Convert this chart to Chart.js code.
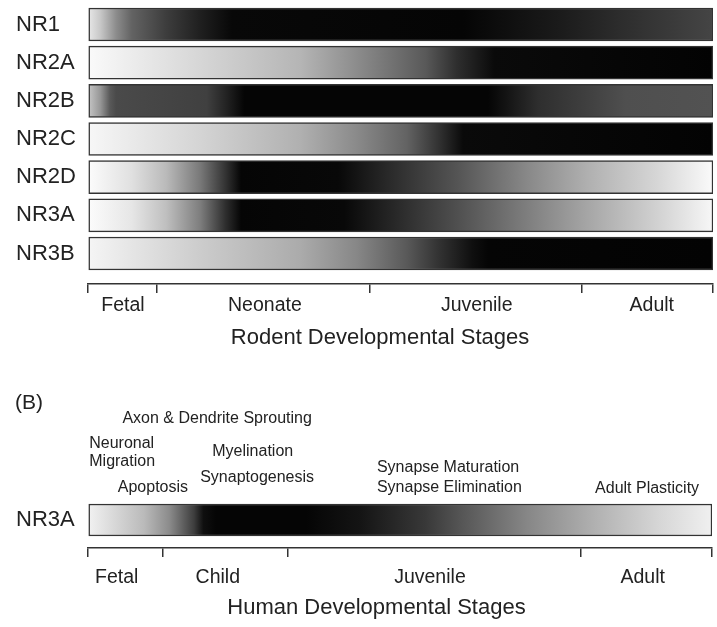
<!DOCTYPE html>
<html>
<head>
<meta charset="utf-8">
<title>NMDA receptor subunit expression across development</title>
<script src="https://cdn.jsdelivr.net/npm/chart.js@4.4.1/dist/chart.umd.min.js"></script>
<style>
  html, body { margin: 0; padding: 0; background: #fff; }
  #wrap { position: relative; width: 717px; height: 627px; }
  canvas { position: absolute; left: 0; }
  #rodent { top: 0; }
  #human { top: 370px; }
</style>
</head>
<body>
<div id="wrap">
  <canvas id="rodent" width="717" height="370"></canvas>
  <canvas id="human" width="717" height="257"></canvas>
</div>
<script>
// Timeline runs from 0 (start of fetal period) to 100 (adult).
// Expression runs from 0 (none, drawn white) to 100 (peak, drawn black).

// ---- Rodent ----
const rodentSubunits = ['NR1', 'NR2A', 'NR2B', 'NR2C', 'NR2D', 'NR3A', 'NR3B'];
const rodentStages = ['Fetal', 'Neonate', 'Juvenile', 'Adult'];
const rodentStageBounds = [0, 11, 45, 79, 100];
const rodentStageLabelAt = [5.6, 28.3, 62.2, 90.2];

const nr1Time  = [0, 2, 4.5, 7, 12.5, 18, 23, 60, 75, 86, 100];
const nr1Expr  = [9, 22, 45, 61, 76, 88, 97, 98, 90, 82, 73];

const nr2aTime = [0, 18, 34, 43, 54, 59, 65, 100];
const nr2aExpr = [2, 16, 29, 45, 65, 82, 96, 99];

const nr2bTime = [0, 2, 3.5, 4.5, 19, 22, 25, 64, 67, 72, 80, 86, 100];
const nr2bExpr = [22, 41, 65, 71, 75, 86, 98, 98, 92, 82, 75, 69, 68];

const nr2cTime = [0, 18, 34, 43, 51, 56, 60, 100];
const nr2cExpr = [3, 17, 31, 46, 61, 80, 96, 99];

const nr2dTime = [0, 7, 12.5, 18, 22, 24.5, 40, 48, 59, 70, 80, 91, 100];
const nr2dExpr = [1, 12, 27, 53, 80, 98, 97, 84, 67, 47, 31, 16, 2];

const nr3aTime = [0, 7, 12.5, 18, 22, 24.5, 41, 59, 70, 80, 91, 100];
const nr3aExpr = [1, 10, 25, 51, 82, 98, 97, 69, 51, 35, 18, 3];

const nr3bTime = [0, 18, 34, 43, 51, 56, 61.5, 64, 100];
const nr3bExpr = [4, 20, 33, 47, 65, 80, 94, 98, 99];

// ---- Human ----
const humanSubunits = ['NR3A'];
const humanStages = ['Fetal', 'Child', 'Juvenile', 'Adult'];
const humanStageBounds = [0, 12, 32, 79, 100];
const humanStageLabelAt = [4.6, 20.8, 54.8, 88.9];

const humanNr3aTime = [0, 9, 13, 17, 18.5, 20.5, 35, 43.5, 54, 59.5, 70.5, 81, 91.5, 100];
const humanNr3aExpr = [5, 27, 45, 76, 94, 98, 98, 92, 78, 67, 47, 31, 16, 6];

// Developmental events and where they fall on the human timeline
const humanEvents    = ['Axon & Dendrite Sprouting', 'Neuronal', 'Migration', 'Myelination',
                        'Synaptogenesis', 'Apoptosis', 'Synapse Maturation',
                        'Synapse Elimination', 'Adult Plasticity'];
const humanEventTime = [20.7, 0.2, 0.2, 26.4, 27.1, 10.4, 46.3, 46.3, 89.6];

// Text placement for the event labels (anchor side and vertical position in the canvas)
const eventAnchor = ['center', 'left', 'left', 'center', 'center', 'center', 'left', 'left', 'center'];
const eventRowY   = [49, 74, 92, 82, 108, 118, 98, 118, 119];

const FONT = "'Liberation Sans', Arial, Helvetica, sans-serif";
const INK = '#222';
const EDGE = '#333';

function grayFor(expr) {
  const g = Math.round(255 - expr * 2.55);
  return 'rgb(' + g + ',' + g + ',' + g + ')';
}

// Horizontal gradient laid out on the x scale, one colour stop per sample
function expressionFill(times, exprs) {
  return (c) => {
    const chart = c.chart;
    const x = chart.scales.x;
    if (!x || !chart.chartArea) return '#888';
    const x0 = x.getPixelForValue(0);
    const x1 = x.getPixelForValue(100);
    const grad = chart.ctx.createLinearGradient(x0, 0, x1, 0);
    times.forEach((t, i) => grad.addColorStop(t / 100, grayFor(exprs[i])));
    return grad;
  };
}

// Free text: placed on the timeline when "time" is given, otherwise at a canvas x
const captionPlugin = {
  id: 'captions',
  afterDraw(chart, args, opts) {
    const { ctx } = chart;
    const x = chart.scales.x;
    ctx.save();
    ctx.fillStyle = INK;
    ctx.textBaseline = 'middle';
    (opts.items || []).forEach(it => {
      ctx.font = it.size + 'px ' + FONT;
      ctx.textAlign = it.align || 'center';
      const px = (it.time !== undefined) ? x.getPixelForValue(it.time) : it.px;
      ctx.fillText(it.text, px, it.y);
    });
    ctx.restore();
  }
};

function buildTimeline(id, cfg) {
  const { subunits, times, exprs, bounds, stages, labelAt, layout, captions } = cfg;
  const fills = times.map((t, i) => expressionFill(t, exprs[i]));

  return new Chart(document.getElementById(id), {
    type: 'bar',
    data: {
      datasets: [{
        data: subunits.map((_, i) => ({ x: [0, 100], y: i })),
        backgroundColor: (c) => fills[c.dataIndex](c),
        borderColor: EDGE,
        borderWidth: 1.5,
        borderSkipped: false,
        barThickness: layout.barThickness
      }]
    },
    options: {
      indexAxis: 'y',
      responsive: false,
      animation: false,
      devicePixelRatio: 1,
      layout: { padding: layout.padding },
      plugins: {
        legend: { display: false },
        tooltip: { enabled: false },
        captions: { items: captions }
      },
      scales: {
        x: {
          type: 'linear',
          min: 0,
          max: 100,
          position: 'bottom',
          afterBuildTicks: (s) => {
            s.ticks = [...bounds, ...labelAt].sort((a, b) => a - b).map(v => ({ value: v }));
          },
          afterFit: (s) => { s.height = layout.axisHeight; },
          border: { display: true, color: EDGE, width: 1.5 },
          grid: {
            drawOnChartArea: false,
            drawTicks: true,
            tickLength: 9,
            lineWidth: 1.5,
            color: (c) => (c.tick && bounds.includes(c.tick.value)) ? EDGE : 'rgba(0,0,0,0)'
          },
          ticks: {
            autoSkip: false,
            maxRotation: 0,
            padding: 1.5,
            color: INK,
            font: { family: FONT, size: 19.5, lineHeight: layout.tickLineHeight },
            callback: (v) => {
              const k = labelAt.indexOf(v);
              return k >= 0 ? stages[k] : '';
            }
          }
        },
        y: {
          type: 'linear',
          offset: false,
          reverse: true,
          min: -0.5,
          max: layout.yMax,
          afterBuildTicks: (s) => { s.ticks = subunits.map((_, i) => ({ value: i })); },
          afterFit: (s) => { s.width = 72; },
          grid: { display: false },
          border: { display: false },
          ticks: {
            crossAlign: 'far',
            padding: 0,
            color: INK,
            font: { family: FONT, size: 22, lineHeight: 0.45 },
            callback: (v) => subunits[v]
          }
        }
      }
    },
    plugins: [captionPlugin]
  });
}

buildTimeline('rodent', {
  subunits: rodentSubunits,
  times: [nr1Time, nr2aTime, nr2bTime, nr2cTime, nr2dTime, nr3aTime, nr3bTime],
  exprs: [nr1Expr, nr2aExpr, nr2bExpr, nr2cExpr, nr2dExpr, nr3aExpr, nr3bExpr],
  bounds: rodentStageBounds,
  stages: rodentStages,
  labelAt: rodentStageLabelAt,
  layout: { padding: { top: 5.4, left: 16, right: 4, bottom: 0 }, axisHeight: 86, yMax: 6.8, barThickness: 33, tickLineHeight: 1.1 },
  captions: [
    { text: 'Rodent Developmental Stages', px: 380, y: 338, size: 22 }
  ]
});

buildTimeline('human', {
  subunits: humanSubunits,
  times: [humanNr3aTime],
  exprs: [humanNr3aExpr],
  bounds: humanStageBounds,
  stages: humanStages,
  labelAt: humanStageLabelAt,
  layout: { padding: { top: 131.5, left: 16, right: 5, bottom: 0 }, axisHeight: 79, yMax: 0.757, barThickness: 32, tickLineHeight: 1.95 },
  captions: [
    { text: '(B)', px: 15, y: 33, size: 21, align: 'left' },
    { text: 'Human Developmental Stages', px: 376.5, y: 238, size: 22 },
    ...humanEvents.map((t, i) => ({ text: t, time: humanEventTime[i], y: eventRowY[i], size: 16, align: eventAnchor[i] }))
  ]
});
</script>
</body>
</html>
